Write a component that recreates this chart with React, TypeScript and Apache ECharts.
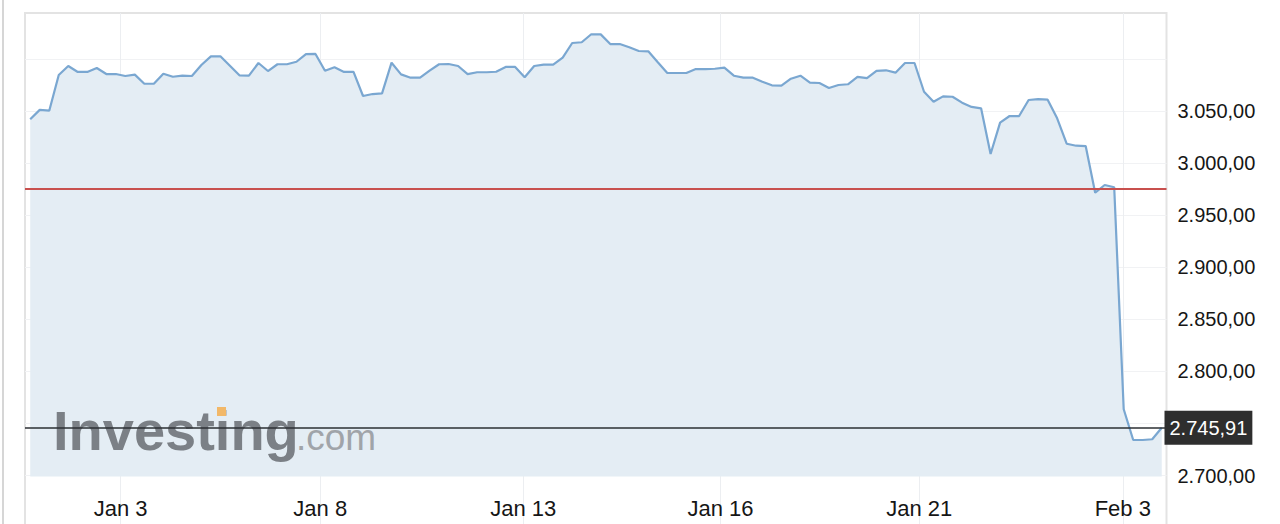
import { useEffect, useRef } from "react";
import * as echarts from "echarts";

// Price series (one point per sampling step, left to right)
const prices: number[] = [
  3042.0, 3051.0, 3050.2, 3084.5, 3093.1, 3087.4, 3087.4, 3091.2, 3085.4, 3085.4,
  3083.5, 3084.8, 3076.1, 3076.1, 3085.7, 3082.8, 3083.8, 3083.5, 3094.1, 3102.4,
  3102.4, 3093.4, 3084.2, 3083.8, 3096.0, 3088.3, 3094.8, 3094.8, 3097.2, 3104.6,
  3104.7, 3088.6, 3091.9, 3087.4, 3087.4, 3064.3, 3066.2, 3066.9, 3096.3, 3085.1,
  3081.9, 3081.9, 3088.6, 3094.8, 3095.0, 3093.1, 3085.4, 3087.1, 3087.1, 3087.6,
  3092.2, 3092.2, 3082.3, 3093.1, 3094.4, 3094.4, 3101.1, 3115.2, 3115.9, 3123.6,
  3123.5, 3114.2, 3114.2, 3111.1, 3107.5, 3107.2, 3096.7, 3086.4, 3086.4, 3086.4,
  3090.2, 3090.2, 3090.5, 3091.5, 3083.8, 3081.9, 3081.9, 3078.0, 3074.6, 3074.2,
  3080.9, 3083.8, 3077.1, 3076.8, 3072.0, 3074.9, 3075.6, 3082.6, 3081.5, 3088.5,
  3089.0, 3086.7, 3096.0, 3096.0, 3068.4, 3058.8, 3064.0, 3063.6, 3057.9, 3053.8,
  3052.5, 3008.6, 3038.7, 3045.1, 3045.1, 3060.5, 3061.4, 3060.8, 3042.9, 3018.5,
  3016.6, 3016.3, 2971.5, 2978.9, 2976.7, 2763.6, 2734.1, 2734.1, 2734.8, 2745.91,
];

// X tick labels and their positions (in sample index units)
const xTickLabels: string[] = ["Jan 3", "Jan 8", "Jan 13", "Jan 16", "Jan 21", "Feb 3"];
const xTickPositions: number[] = [9.5, 30.5, 51.85, 72.6, 93.5, 114.9];

// Y grid lines and labels
const yGridValues: number[] = [2650, 2700, 2750, 2800, 2850, 2900, 2950, 3000, 3050, 3100];
const yLabelValues: number[] = [2700, 2800, 2850, 2900, 2950, 3000, 3050];

const previousClose = 2975;
const lastPrice = 2745.91;
const areaBase = 2699;

const FONT = "Liberation Sans";

function fmt(v: number): string {
  const [i, d] = v.toFixed(2).split(".");
  return i.replace(/\B(?=(\d{3})+(?!\d))/g, ".") + "," + d;
}

function nearestLabel(v: number): string {
  let best = 0;
  for (let k = 1; k < xTickPositions.length; k++) {
    if (Math.abs(xTickPositions[k] - v) < Math.abs(xTickPositions[best] - v)) best = k;
  }
  return xTickLabels[best];
}

export default function App() {
  const ref = useRef<HTMLDivElement>(null);

  useEffect(() => {
    if (!ref.current) return;
    const chart = echarts.init(ref.current, undefined, { renderer: "svg" });
    const data = prices.map((v, i) => [i, v]);

    chart.setOption({
      animation: false,
      textStyle: { fontFamily: FONT },
      title: [
        {
          text: "Investing",
          left: 53,
          top: 402,
          padding: 0,
          z: 3,
          textStyle: {
            fontSize: 56,
            fontWeight: "bold",
            fontFamily: FONT,
            color: "#7b8086",
          },
        },
        {
          text: ".com",
          left: 296,
          top: 419,
          padding: 0,
          z: 3,
          textStyle: {
            fontSize: 37,
            fontWeight: "normal",
            fontFamily: FONT,
            color: "#a0a4a9",
          },
        },
      ],
      grid: {
        left: 25,
        top: 13,
        right: 113.5,
        bottom: 0,
        show: true,
        borderColor: "#e3e3e3",
        borderWidth: 2,
        backgroundColor: "transparent",
      },
      xAxis: {
        type: "value",
        min: -0.55,
        max: 119.5,
        axisLine: { show: false },
        axisTick: { show: false, customValues: xTickPositions },
        splitLine: { show: true, lineStyle: { color: "#eceef1", width: 1 } },
        axisLabel: {
          inside: true,
          customValues: xTickPositions,
          formatter: (v: number) => nearestLabel(v),
          fontSize: 22,
          color: "#161616",
          fontFamily: FONT,
          margin: 11,
        },
      },
      yAxis: {
        type: "value",
        position: "right",
        min: 2647.7,
        max: 3144,
        axisLine: { show: false },
        axisTick: { show: false, customValues: yGridValues },
        splitLine: { show: true, lineStyle: { color: "#f1f2f4", width: 1 } },
        axisLabel: {
          customValues: yLabelValues,
          formatter: (v: number) => fmt(v),
          fontSize: 20,
          color: "#161616",
          fontFamily: FONT,
          margin: 11,
        },
      },
      graphic: [
        {
          type: "line",
          shape: { x1: 3, y1: 0, x2: 3, y2: 530 },
          style: { stroke: "#c8c8c8", lineWidth: 1.5 },
          z: 3,
        },
        {
          type: "rect",
          z: 4,
          shape: { x: 217, y: 407, width: 9, height: 9 },
          style: { fill: "#f2b868" },
        },
      ],
      series: [
        {
          type: "line",
          data,
          symbol: "none",
          silent: true,
          lineStyle: { color: "#7aa7d1", width: 2.2 },
          areaStyle: { color: "#e4edf4", opacity: 1, origin: areaBase },
          markLine: {
            symbol: "none",
            silent: true,
            animation: false,
            data: [
              {
                yAxis: previousClose,
                lineStyle: { color: "#c8504e", width: 2, type: "solid" },
                label: { show: false },
              },
              {
                yAxis: lastPrice,
                lineStyle: { color: "#2b2f33", width: 1.5, type: "solid" },
                label: {
                  show: true,
                  position: "end",
                  distance: -2,
                  formatter: fmt(lastPrice),
                  color: "#ffffff",
                  backgroundColor: "#2e2e2e",
                  padding: [7, 5, 7, 5],
                  fontSize: 20,
                  fontFamily: FONT,
                },
              },
            ],
          },
        },
      ],
    });

    return () => chart.dispose();
  }, []);

  return (
    <div style={{ position: "absolute", left: 0, top: 0, width: 1280, height: 524, overflow: "hidden" }}>
      <div ref={ref} style={{ width: 1280, height: 530 }} />
    </div>
  );
}
